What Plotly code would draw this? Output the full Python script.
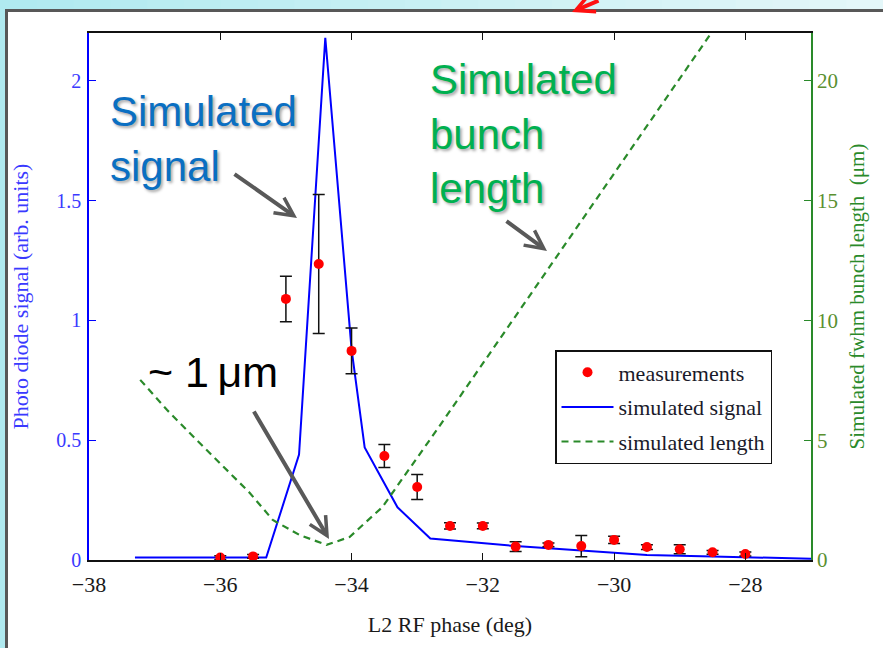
import plotly.graph_objects as go

# ---- data ----
meas_x = [-36.0, -35.5, -35.0, -34.5, -34.0, -33.5, -33.0, -32.5, -32.0, -31.5,
          -31.0, -30.5, -30.0, -29.5, -29.0, -28.5, -28.0]
meas_y = [0.010, 0.015, 1.09, 1.236, 0.873, 0.434, 0.305, 0.142, 0.142, 0.056,
          0.063, 0.058, 0.084, 0.054, 0.045, 0.032, 0.025]
meas_err = [0.008, 0.008, 0.095, 0.29, 0.096, 0.048, 0.052, 0.013, 0.012, 0.02,
            0.008, 0.044, 0.015, 0.01, 0.019, 0.008, 0.008]

sig_x = [-37.3, -35.3, -34.8, -34.4, -34.0, -33.8, -33.3, -32.8, -31.5, -30.5,
         -29.5, -28.5, -27.0]
sig_y = [0.01, 0.01, 0.44, 2.18, 0.88, 0.47, 0.22, 0.09, 0.058, 0.038,
         0.021, 0.015, 0.005]

len_x = [-37.22, -36.81, -36.36, -35.86, -35.55, -35.20, -34.79, -34.38, -34.03,
         -33.53, -32.67, -28.52, -28.0]
len_y = [7.52, 6.26, 5.01, 3.63, 2.80, 1.67, 1.04, 0.63, 0.96,
         2.21, 5.55, 22.0, 24.1]

x_ticks = [-38, -36, -34, -32, -30, -28]
y1_ticks = [0, 0.5, 1, 1.5, 2]
y1_ticktext = ["0", "0.5", "1", "1.5", "2"]
y2_ticks = [0, 5, 10, 15, 20]

W, H = 883, 648
L, R, T, B = 89, 72, 33, 88
PW, PH = W - L - R, H - T - B


def px(x):
    return (x - L) / PW


def py(y):
    return (H - B - y) / PH


SERIF = "Liberation Serif, Times New Roman, serif"
SANS = "Liberation Sans, Arial, sans-serif"
BLUE = "#0000ff"
GREEN = "#2a8a2a"

fig = go.Figure()

fig.add_trace(go.Scatter(
    x=sig_x, y=sig_y, mode="lines", name="simulated signal",
    line=dict(color=BLUE, width=2), legendrank=2, legendgroup="b"))

fig.add_trace(go.Scatter(
    x=meas_x, y=meas_y, mode="markers", name="measurements",
    marker=dict(color="#ff0000", size=10),
    error_y=dict(type="data", array=meas_err, color="#111111", thickness=1.5, width=6),
    legendrank=1, legendgroup="a"))

fig.add_trace(go.Scatter(
    x=len_x, y=len_y, mode="lines", name="simulated length", yaxis="y2",
    line=dict(color=GREEN, width=2.2, dash="7px,5px"), legendrank=3, legendgroup="c"))

# background: cyan slide strips and grey frame
shapes = []
n = 24
c0 = (0xb0, 0xea, 0xf0)
c1 = (0xe4, 0xf7, 0xf9)
for i in range(n):
    t = i / (n - 1)
    col = "rgb(%d,%d,%d)" % tuple(int(c0[k] + (c1[k] - c0[k]) * t) for k in range(3))
    x0 = i * W / n
    x1 = (i + 1) * W / n + 1
    shapes.append(dict(type="rect", xref="paper", yref="paper", layer="below",
                       x0=px(x0), x1=px(x1), y0=py(10), y1=py(-2),
                       line=dict(width=0), fillcolor=col))
shapes.append(dict(type="rect", xref="paper", yref="paper", layer="below",
                   x0=px(-2), x1=px(6), y0=py(H + 2), y1=py(10),
                   line=dict(width=0), fillcolor="rgb(176,234,240)"))
shapes.append(dict(type="line", xref="paper", yref="paper", layer="below",
                   x0=px(6.5), x1=px(6.5), y0=py(H + 2), y1=py(9),
                   line=dict(width=3, color="#585858")))
shapes.append(dict(type="line", xref="paper", yref="paper", layer="below",
                   x0=px(5), x1=px(W + 2), y0=py(10.5), y1=py(10.5),
                   line=dict(width=3, color="#585858")))

annotations = [
    dict(text="Simulated<br>signal", xref="paper", yref="paper",
         x=px(108), y=py(86), xanchor="left", yanchor="top", align="left",
         showarrow=False,
         font=dict(family=SANS, size=42, color="#0a6fc2",
                   shadow="2px 2px 3px rgba(0,0,0,0.35)")),
    dict(text="Simulated<br>bunch<br>length", xref="paper", yref="paper",
         x=px(428), y=py(54), xanchor="left", yanchor="top", align="left",
         showarrow=False,
         font=dict(family=SANS, size=42, color="#00b050",
                   shadow="2px 2px 3px rgba(0,0,0,0.35)")),
    dict(text="~ 1\u2009\u03bcm", xref="paper", yref="paper",
         x=px(146), y=py(346), xanchor="left", yanchor="top", align="left",
         showarrow=False,
         font=dict(family=SANS, size=43, color="#000000")),
    # grey arrows
    dict(text="", xref="paper", yref="paper", x=px(297), y=py(218),
         ax=233 - 297, ay=173 - 218, showarrow=True, arrowhead=5,
         arrowsize=0.9, arrowwidth=4, arrowcolor="#595959"),
    dict(text="", xref="paper", yref="paper", x=px(547), y=py(251),
         ax=505 - 547, ay=220 - 251, showarrow=True, arrowhead=5,
         arrowsize=0.9, arrowwidth=4, arrowcolor="#595959"),
    dict(text="", xref="paper", yref="paper", x=px(329), y=py(539),
         ax=253 - 329, ay=410 - 539, showarrow=True, arrowhead=5,
         arrowsize=0.9, arrowwidth=4, arrowcolor="#595959"),
    # red arrow at top of slide
    dict(text="", xref="paper", yref="paper", x=px(572), y=py(12),
         ax=28, ay=-18, showarrow=True, arrowhead=5,
         arrowsize=0.9, arrowwidth=4, arrowcolor="#ff1010"),
]

fig.update_layout(
    width=W, height=H,
    margin=dict(l=L, r=R, t=T, b=B, pad=0),
    paper_bgcolor="white", plot_bgcolor="white",
    showlegend=True,
    legend=dict(x=px(555), y=py(350), xanchor="left", yanchor="top",
                bgcolor="white", bordercolor="#111111", borderwidth=1.5,
                font=dict(family=SERIF, size=22, color="#1a1a2a"),
                traceorder="grouped", tracegroupgap=3, itemwidth=52),
    xaxis=dict(range=[-38, -27], tickvals=x_ticks, ticks="inside", ticklen=7,
               tickwidth=1.2, tickcolor="#111111", showline=True, linecolor="#111111",
               linewidth=1.5, mirror="ticks", showgrid=False, zeroline=False,
               ticklabelstandoff=4,
               tickfont=dict(family=SERIF, size=22, color="#1a1a1a"),
               title=dict(text="L2 RF phase (deg)", standoff=20,
                          font=dict(family=SERIF, size=22, color="#1a1a1a"))),
    yaxis=dict(range=[0, 2.2], tickvals=y1_ticks, ticktext=y1_ticktext,
               ticks="inside", ticklen=7, tickcolor=BLUE, showline=True,
               linecolor=BLUE, linewidth=1.5, showgrid=False, zeroline=False,
               ticklabelstandoff=2,
               tickfont=dict(family=SERIF, size=20, color="#3a3aff"),
               title=dict(text="Photo diode signal (arb. units)", standoff=22,
                          font=dict(family=SERIF, size=22, color="#3a3aff"))),
    yaxis2=dict(range=[0, 22], tickvals=y2_ticks, overlaying="y", side="right",
                ticks="inside", ticklen=7, tickcolor=GREEN, showline=True,
                linecolor=GREEN, linewidth=1.5, showgrid=False, zeroline=False,
                tickfont=dict(family=SERIF, size=21, color="#5a9030"),
                title=dict(text="Simulated fwhm bunch length  (\u03bcm)", standoff=12,
                           font=dict(family=SERIF, size=21, color="#2a8a2a"))),
    shapes=shapes,
    annotations=annotations,
)

fig.write_html("out.html")
